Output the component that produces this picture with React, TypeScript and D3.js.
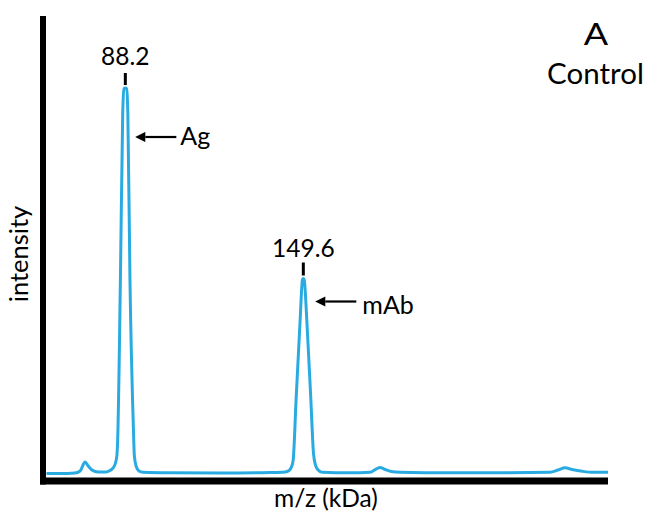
import React from "react";
import * as d3 from "d3";

const massKDa = [61.0, 65.7, 70.8, 72.6, 74.3, 75.4, 76.7, 78.8, 81.5, 82.9, 83.96, 84.8, 85.3, 85.5, 86.5, 87.3, 87.75, 88.2, 88.65, 89.06, 89.8, 91.0, 91.3, 91.9, 92.9, 94.3, 103.6, 120.9, 138.1, 143.3, 144.7, 145.5, 146.1, 147.1, 148.5, 149.3, 149.6, 149.9, 150.8, 152.2, 153.1, 153.8, 154.7, 156.1, 165.7, 172.6, 174.7, 176.1, 177.8, 179.9, 183.0, 200.2, 220.0, 234.7, 237.5, 239.9, 242.3, 245.8, 249.6, 254.7];
const intensity = [0.64, 0.64, 0.77, 1.29, 3.6, 2.58, 1.55, 1.03, 1.03, 1.42, 2.06, 3.35, 5.4, 8.0, 50.5, 93.6, 99.8, 100, 99.8, 93.6, 50.5, 11.9, 5.4, 2.58, 1.29, 0.95, 0.82, 0.77, 0.9, 1.03, 1.42, 2.3, 4.1, 19.6, 40.2, 50.6, 50.9, 50.6, 40.2, 19.6, 5.9, 2.8, 1.55, 0.95, 0.82, 0.95, 1.8, 2.2, 1.68, 1.16, 0.95, 0.82, 0.85, 0.95, 1.55, 2.1, 1.68, 1.22, 0.95, 0.95];

const peakMass = [88.2, 149.6];
const peakIntensity = [100, 50.9];
const peakLabels = ["88.2", "149.6"];
const peakNames = ["Ag", "mAb"];
const panelLetter = "A";
const panelTitle = "Control";
const xLabel = "m/z (kDa)";
const yLabel = "intensity";

const W = 645;
const H = 514;
const FONT = "Lato, 'Open Sans', sans-serif";
const BLUE = "#29abe2";

export default function App() {
  const x = d3.scaleLinear().domain([59.8, 254.7]).range([43, 608]);
  const y = d3.scaleLinear().domain([0, 100]).range([476, 88]);
  const pts: [number, number][] = massKDa.map((m, i) => [m, intensity[i]]);
  const line = d3
    .line<[number, number]>()
    .x((d) => x(d[0]))
    .y((d) => y(d[1]))
    .curve(d3.curveMonotoneX);

  const axisLeft = x.range()[0];
  const axisBottom = 481;
  const arrowLayout = [
    { dyArrow: 49, tip: 9, tail: 51, text: 55, dyText: 57, tickTop: 15, labelDy: 23 },
    { dyArrow: 23, tip: 11, tail: 53, text: 59, dyText: 35, tickTop: 16, labelDy: 22 },
  ];

  return (
    <svg
      width={W}
      height={H}
      style={{ position: "absolute", left: 0, top: 0, background: "#fff" }}
      fontFamily={FONT}
    >
      <defs>
        <marker id="ah" viewBox="0 0 10 10" refX="0" refY="5" markerWidth="5.5" markerHeight="4.6" orient="auto" markerUnits="strokeWidth">
          <path d="M0,0 L10,5 L0,10 Z" fill="#000" />
        </marker>
      </defs>
      <path d={line(pts) || ""} fill="none" stroke={BLUE} strokeWidth={3} strokeLinejoin="round" />
      <line x1={axisLeft} x2={axisLeft} y1={16} y2={axisBottom + 3.5} stroke="#000" strokeWidth={6} />
      <line x1={axisLeft - 3} x2={x.range()[1]} y1={axisBottom} y2={axisBottom} stroke="#000" strokeWidth={7} />
      {peakMass.map((m, i) => {
        const px = x(m);
        const py = y(peakIntensity[i]);
        const L = arrowLayout[i];
        return (
          <g key={i}>
            <line x1={px} x2={px} y1={py - L.tickTop} y2={py - 3} stroke="#000" strokeWidth={3} />
            <text x={px} y={py - L.labelDy} textAnchor="middle" fontSize={24.5} fill="#000">
              {peakLabels[i]}
            </text>
            <line x1={px + L.tail} x2={px + L.tip + 11} y1={py + L.dyArrow} y2={py + L.dyArrow} stroke="#000" strokeWidth={2.2} markerEnd="url(#ah)" />
            <text x={px + L.text} y={py + L.dyText} fontSize={25} fill="#000">
              {peakNames[i]}
            </text>
          </g>
        );
      })}
      <text transform="translate(596,44.5) scale(1.2,1)" textAnchor="middle" fontSize={30} fill="#000">{panelLetter}</text>
      <text x={595.5} y={84} textAnchor="middle" fontSize={29.5} fill="#000">{panelTitle}</text>
      <text x={326} y={507} textAnchor="middle" fontSize={24.5} fill="#000">{xLabel}</text>
      <text transform={`translate(28,254) rotate(-90)`} textAnchor="middle" fontSize={25.5} fill="#000">{yLabel}</text>
    </svg>
  );
}
